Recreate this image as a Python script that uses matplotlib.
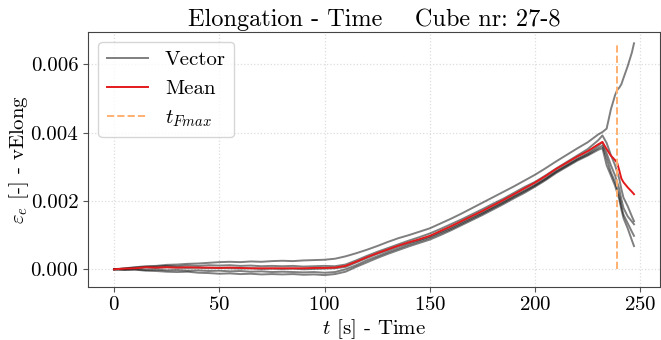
import matplotlib
matplotlib.use('Agg')
import matplotlib.pyplot as plt
import numpy as np

# --- Data (strain values in units of 1e-3) ---
t = [0, 5, 10, 15, 20, 25, 30, 35, 40, 45, 50, 55, 60, 65, 70, 75, 80, 85, 90, 95,
     100, 105, 110, 115, 120, 125, 130, 135, 140, 145, 150, 155, 160, 165, 170, 175,
     180, 185, 190, 195, 200, 205, 210, 215, 220, 225, 230, 232, 234, 236, 238, 239,
     240, 241, 242, 244, 246, 247]

vec1 = [0.00, 0.03, 0.06, 0.09, 0.10, 0.13, 0.14, 0.16, 0.17, 0.19, 0.21, 0.22, 0.21, 0.23,
        0.22, 0.24, 0.25, 0.24, 0.26, 0.27, 0.28, 0.31, 0.38, 0.47, 0.57, 0.68, 0.80, 0.91,
        1.00, 1.10, 1.20, 1.34, 1.48, 1.63, 1.79, 1.95, 2.11, 2.27, 2.43, 2.60, 2.77, 2.96,
        3.16, 3.35, 3.54, 3.72, 3.95, 4.02, 4.12, 4.68, 5.10, 5.25, 5.32, 5.42, 5.60, 5.95,
        6.35, 6.62]
vec2 = [0.00, 0.02, 0.05, 0.07, 0.08, 0.10, 0.09, 0.11, 0.10, 0.12, 0.11, 0.12, 0.10, 0.11,
        0.09, 0.10, 0.09, 0.10, 0.08, 0.09, 0.10, 0.09, 0.14, 0.26, 0.39, 0.51, 0.62, 0.73,
        0.84, 0.94, 1.05, 1.18, 1.32, 1.46, 1.61, 1.76, 1.92, 2.07, 2.24, 2.41, 2.56, 2.75,
        2.95, 3.14, 3.33, 3.52, 3.78, 3.92, 3.70, 3.35, 3.05, 2.85, 2.65, 2.35, 2.10, 1.85,
        1.55, 1.41]
vec3 = [0.00, 0.01, 0.03, 0.05, 0.04, 0.06, 0.05, 0.04, 0.05, 0.03, 0.04, 0.03, 0.02, 0.03,
        0.01, 0.02, 0.01, 0.02, 0.00, 0.01, 0.02, 0.03, 0.07, 0.20, 0.33, 0.45, 0.56, 0.67,
        0.77, 0.86, 0.96, 1.09, 1.22, 1.37, 1.52, 1.66, 1.82, 1.98, 2.15, 2.31, 2.48, 2.67,
        2.88, 3.06, 3.24, 3.40, 3.62, 3.72, 3.40, 3.05, 2.75, 2.55, 2.35, 2.05, 1.80, 1.55,
        1.40, 1.32]
vec4 = [0.00, -0.01, 0.00, -0.02, -0.01, -0.03, -0.02, -0.04, -0.03, -0.05, -0.04, -0.06,
        -0.05, -0.07, -0.06, -0.08, -0.07, -0.08, -0.09, -0.08, -0.10, -0.08, 0.00, 0.12,
        0.26, 0.38, 0.50, 0.61, 0.72, 0.82, 0.92, 1.05, 1.18, 1.33, 1.48, 1.63, 1.79, 1.95,
        2.12, 2.28, 2.45, 2.64, 2.85, 3.03, 3.21, 3.36, 3.55, 3.62, 3.25, 2.85, 2.55, 2.35,
        2.15, 1.85, 1.60, 1.35, 1.10, 0.98]
vec5 = [0.00, -0.02, -0.01, -0.04, -0.05, -0.07, -0.08, -0.07, -0.10, -0.11, -0.13, -0.12,
        -0.14, -0.13, -0.15, -0.14, -0.15, -0.14, -0.16, -0.15, -0.17, -0.14, -0.07, 0.07,
        0.20, 0.33, 0.45, 0.56, 0.67, 0.77, 0.87, 1.00, 1.14, 1.29, 1.44, 1.59, 1.75, 1.91,
        2.08, 2.24, 2.42, 2.61, 2.82, 3.00, 3.18, 3.33, 3.50, 3.55, 3.05, 2.75, 2.45, 2.25,
        2.05, 1.75, 1.50, 1.20, 0.85, 0.68]

mean = [0.00, 0.02, 0.03, 0.06, 0.05, 0.06, 0.05, 0.06, 0.05, 0.05, 0.04, 0.05, 0.04, 0.03,
        0.03, 0.03, 0.03, 0.03, 0.03, 0.04, 0.04, 0.05, 0.10, 0.22, 0.35, 0.47, 0.58, 0.69,
        0.79, 0.88, 0.98, 1.12, 1.26, 1.41, 1.56, 1.71, 1.87, 2.03, 2.20, 2.37, 2.54, 2.73,
        2.94, 3.12, 3.30, 3.46, 3.66, 3.73, 3.52, 3.33, 3.20, 3.12, 2.90, 2.66, 2.55, 2.40,
        2.27, 2.20]

t_fmax = 239.0
scale = 1e-3

# --- Style ---
plt.rcParams['font.family'] = 'serif'
plt.rcParams['font.serif'] = ['cmr10']
plt.rcParams['mathtext.fontset'] = 'cm'
plt.rcParams['axes.formatter.use_mathtext'] = True
plt.rcParams['axes.unicode_minus'] = False

fig = plt.figure(figsize=(6.61, 3.4), dpi=100)
ax = fig.add_axes([88 / 661, 1 - 286.7 / 340, 572 / 661, 255 / 340])

vectors = [vec1, vec2, vec3, vec4, vec5]
for i, v in enumerate(vectors):
    ax.plot(t, np.array(v) * scale, color='k', alpha=0.5, lw=1.4,
            label='Vector' if i == 0 else None)
ax.plot(t, np.array(mean) * scale, color='#e31a1c', lw=1.4, label='Mean')

ymax = max(max(v) for v in vectors) * scale
ax.vlines(t_fmax, 0, ymax, colors='#ffb070', linestyles='dashed', lw=1.4,
          label=r'$t_{Fmax}$')

ax.set_xticks([0, 50, 100, 150, 200, 250])
ax.set_yticks([0.0, 0.002, 0.004, 0.006])
ax.yaxis.set_major_formatter(matplotlib.ticker.FormatStrFormatter('%.3f'))
ax.tick_params(labelsize=15, direction='out', length=3.5, color='#555555')
ax.grid(True, linestyle=':', color='#dddddd', lw=0.9)
for s in ax.spines.values():
    s.set_color('#444444')

ax.set_xlabel(r'$t$ [s] - Time', fontsize=15, labelpad=2)
ax.set_ylabel(r'$\varepsilon_e$ [-] - vElong', fontsize=15, labelpad=0)
ax.set_title('Elongation - Time    Cube nr: 27-8', fontsize=17.5, pad=4)

ax.legend(loc='upper left', fontsize=15)

plt.savefig('out.png', dpi=100)
